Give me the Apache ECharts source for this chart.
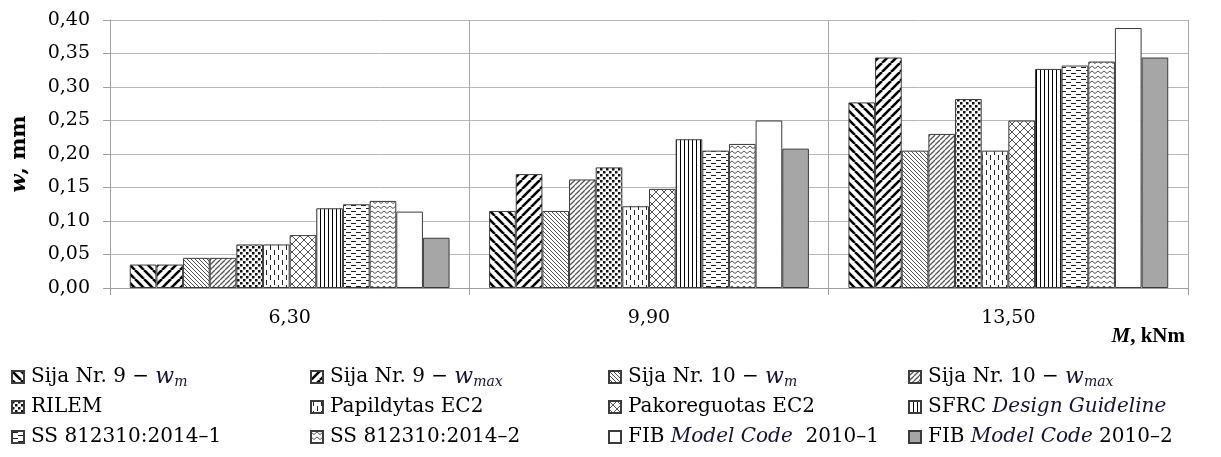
<!DOCTYPE html>
<html>
<head>
<meta charset="utf-8">
<script src="https://cdn.jsdelivr.net/npm/echarts@6/dist/echarts.min.js"></script>
<style>html,body{margin:0;padding:0;background:#fff;}#chart{width:1221px;height:457px;}</style>
</head>
<body>
<div id="chart"></div>
<script>
// ---- data ----
const categories = ['6,30', '9,90', '13,50'];
const yTicks = [0, 0.05, 0.10, 0.15, 0.20, 0.25, 0.30, 0.35, 0.40];
const sija9_wm     = [0.035, 0.115, 0.277];
const sija9_wmax   = [0.035, 0.170, 0.344];
const sija10_wm    = [0.045, 0.115, 0.205];
const sija10_wmax  = [0.045, 0.162, 0.230];
const rilem        = [0.065, 0.180, 0.282];
const papildytas   = [0.065, 0.122, 0.205];
const pakoreguotas = [0.079, 0.148, 0.250];
const sfrc         = [0.119, 0.222, 0.327];
const ss1          = [0.125, 0.205, 0.332];
const ss2          = [0.130, 0.215, 0.338];
const fib1         = [0.114, 0.250, 0.388];
const fib2         = [0.075, 0.208, 0.344];

const seriesNames = [
  'Sija Nr. 9 – wm', 'Sija Nr. 9 – wmax', 'Sija Nr. 10 – wm', 'Sija Nr. 10 – wmax',
  'RILEM', 'Papildytas EC2', 'Pakoreguotas EC2', 'SFRC Design Guideline',
  'SS 812310:2014–1', 'SS 812310:2014–2', 'FIB Model Code 2010–1', 'FIB Model Code 2010–2'
];
const seriesData = [sija9_wm, sija9_wmax, sija10_wm, sija10_wmax, rilem, papildytas,
  pakoreguotas, sfrc, ss1, ss2, fib1, fib2];
const legendRich = {
  'Sija Nr. 9 – wm': '{n|Sija Nr. 9 − }{i|w}{s|m}',
  'Sija Nr. 9 – wmax': '{n|Sija Nr. 9 − }{i|w}{s|max}',
  'Sija Nr. 10 – wm': '{n|Sija Nr. 10 − }{i|w}{s|m}',
  'Sija Nr. 10 – wmax': '{n|Sija Nr. 10 − }{i|w}{s|max}',
  'RILEM': '{n|RILEM}',
  'Papildytas EC2': '{n|Papildytas EC2}',
  'Pakoreguotas EC2': '{n|Pakoreguotas EC2}',
  'SFRC Design Guideline': '{n|SFRC }{it|Design Guideline}',
  'SS 812310:2014–1': '{n|SS 812310:2014–1}',
  'SS 812310:2014–2': '{n|SS 812310:2014–2}',
  'FIB Model Code 2010–1': '{n|FIB }{it|Model Code}{n|  2010–1}',
  'FIB Model Code 2010–2': '{n|FIB }{it|Model Code}{n| 2010–2}'
};

// ---- patterns ----
function pat(w, h, draw) {
  const c = document.createElement('canvas');
  c.width = w; c.height = h;
  const g = c.getContext('2d');
  g.fillStyle = '#fff'; g.fillRect(0, 0, w, h);
  draw(g);
  return { image: c, repeat: 'repeat' };
}
function diag(s, lw, color, dir) {
  return pat(s, s, g => {
    g.strokeStyle = color; g.lineWidth = lw;
    for (const k of [-s, 0, s]) {
      g.beginPath();
      if (dir === 'back') { g.moveTo(k, 0); g.lineTo(k + s, s); }
      else { g.moveTo(k, s); g.lineTo(k + s, 0); }
      g.stroke();
    }
  });
}
const fills = [
  diag(9, 2.6, '#000', 'back'),
  diag(9, 2.6, '#000', 'fwd'),
  diag(4, 1, '#555', 'back'),
  diag(5, 1.3, '#555', 'fwd'),
  pat(6, 6, g => { g.fillStyle = '#111'; g.fillRect(0, 0, 2.5, 2.5); g.fillRect(3, 3, 2.5, 2.5); }),
  pat(8, 10, g => { g.fillStyle = '#222'; g.fillRect(2, 0, 1, 5); g.fillRect(6, 5, 1, 5); }),
  pat(8, 8, g => {
    g.strokeStyle = '#555'; g.lineWidth = 1;
    for (const k of [-8, 0, 8]) {
      g.beginPath(); g.moveTo(k, 0); g.lineTo(k + 8, 8); g.stroke();
      g.beginPath(); g.moveTo(k, 8); g.lineTo(k + 8, 0); g.stroke();
    }
  }),
  pat(4, 4, g => { g.fillStyle = '#000'; g.fillRect(0, 0, 1, 4); }),
  pat(10, 6, g => { g.fillStyle = '#222'; g.fillRect(1, 1, 5, 1); g.fillRect(6, 4, 4, 1); g.fillRect(0, 4, 1, 1); }),
  pat(6, 5, g => {
    g.strokeStyle = '#555'; g.lineWidth = 1;
    g.beginPath(); g.moveTo(0, 1); g.lineTo(3, 3.5); g.lineTo(6, 1); g.stroke();
  }),
  '#ffffff',
  '#a6a6a6'
];

const serif = '"DejaVu Serif", serif';
const times = '"Liberation Serif", serif';
const FS = 19;
const LFS = 20;
const rich = {
  n: { fontFamily: serif, fontSize: LFS, color: '#000', lineHeight: 24, height: 24 },
  it: { fontFamily: serif, fontSize: LFS, fontStyle: 'italic', color: '#141432', lineHeight: 24, height: 24 },
  i: { fontFamily: serif, fontSize: 22, fontStyle: 'italic', color: '#141432', lineHeight: 24, height: 24 },
  s: { fontFamily: serif, fontSize: 14, fontStyle: 'italic', color: '#141432', lineHeight: 24, verticalAlign: 'bottom' }
};

const colLefts = [6, 305, 603, 903];
const legends = colLefts.map((left, ci) => ({
  left: left, top: 360, orient: 'vertical', itemGap: 6,
  itemWidth: 12, itemHeight: 12, icon: 'rect',
  data: [seriesNames[ci], seriesNames[ci + 4], seriesNames[ci + 8]],
  formatter: name => legendRich[name],
  textStyle: { rich: rich, fontFamily: serif, fontSize: LFS, padding: [0, 0, 0, 2] },
  selectedMode: false
}));

const series = seriesNames.map((name, i) => ({
  name: name, type: 'bar', data: seriesData[i],
  barGap: '0%', barCategoryGap: '11%',
  itemStyle: { color: fills[i], borderColor: '#3c3c3c', borderWidth: 1 },
  emphasis: { disabled: true }, animation: false
}));

const chart = echarts.init(document.getElementById('chart'), null, { renderer: 'canvas' });
chart.setOption({
  backgroundColor: '#fff',
  animation: false,
  title: {
    text: '{i|M}{b|, kNm}', right: 31, top: 321,
    textStyle: { rich: {
      i: { fontFamily: times, fontSize: 21, fontStyle: 'italic', fontWeight: 'bold', color: '#000' },
      b: { fontFamily: times, fontSize: 21, fontWeight: 'bold', color: '#000' }
    } }
  },
  legend: legends,
  grid: { left: 110, right: 33, top: 20, bottom: 169 },
  xAxis: {
    type: 'category', data: categories,
    axisLine: { lineStyle: { color: '#a0a0a0', width: 1 } },
    axisTick: { show: true, length: 7, lineStyle: { color: '#a0a0a0' } },
    splitLine: { show: true, lineStyle: { color: '#a8a8a8', width: 1 } },
    axisLabel: { margin: 21, fontFamily: serif, fontSize: FS, color: '#000' }
  },
  yAxis: {
    type: 'value', min: 0, max: 0.4, interval: 0.05,
    name: '{i|w}{b|, mm}', nameLocation: 'middle', nameRotate: 90, nameGap: 80,
    nameTextStyle: { rich: {
      i: { fontFamily: serif, fontSize: 21, fontStyle: 'italic', fontWeight: 'bold', color: '#000' },
      b: { fontFamily: serif, fontSize: 21, fontWeight: 'bold', color: '#000' }
    } },
    axisLine: { show: true, lineStyle: { color: '#a0a0a0', width: 1 } },
    axisTick: { show: true, length: 7, lineStyle: { color: '#a0a0a0' } },
    splitLine: { show: true, lineStyle: { color: '#b8b8b8', width: 1 } },
    axisLabel: { margin: 20, fontFamily: serif, fontSize: FS, color: '#000',
      formatter: v => yTicks.includes(Math.round(v * 100) / 100) ? v.toFixed(2).replace('.', ',') : '' }
  },
  series: series
});
</script>
</body>
</html>
